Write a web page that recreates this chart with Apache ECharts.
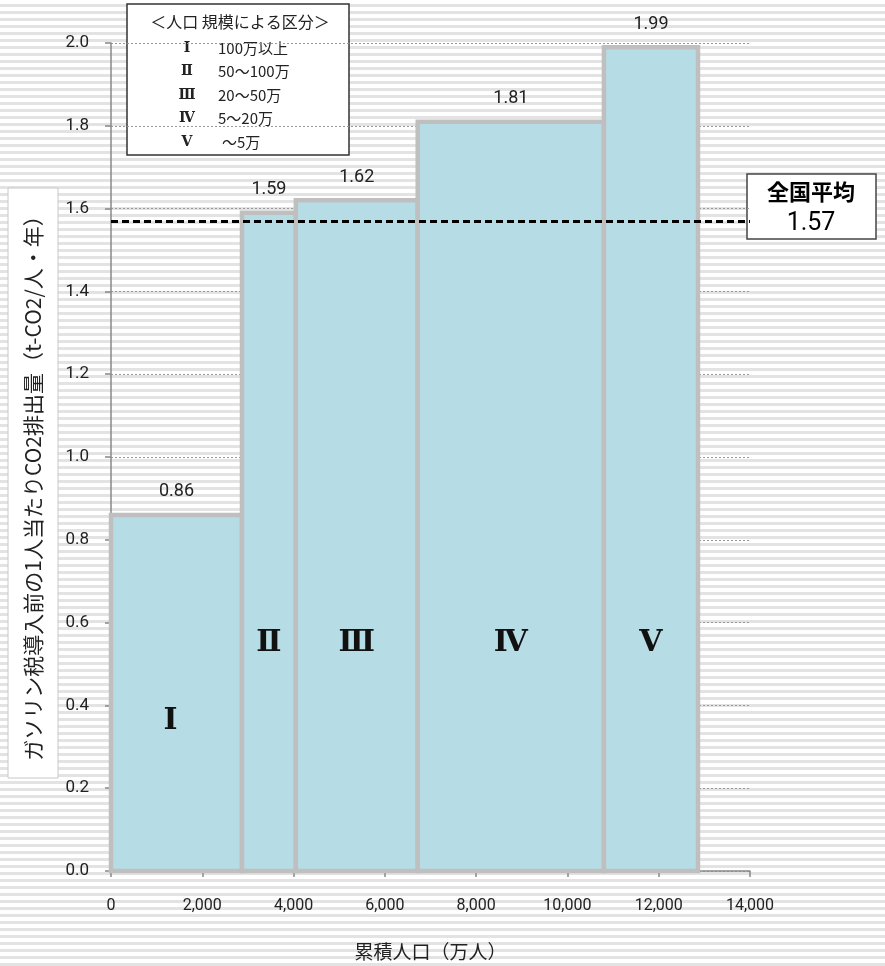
<!DOCTYPE html>
<html>
<head>
<meta charset="utf-8">
<script src="https://cdn.jsdelivr.net/npm/echarts@6/dist/echarts.min.js"></script>
<style>
  html, body {
    margin: 0;
    padding: 0;
    background: repeating-linear-gradient(to bottom, #ffffff 0px, #ffffff 4px, #e3e3e3 4px, #e3e3e3 7px);
  }
  #chart {
    width: 885px;
    height: 966px;
  }
</style>
</head>
<body>
<div id="chart"></div>
<script>
// cumulative population (万人) at the bar edges
const popEdges = [0, 2870, 4050, 6720, 10800, 12860]
// CO2 per person (t-CO2/人・年)
const co2PerCapita = [0.86, 1.59, 1.62, 1.81, 1.99]
const classNames = ['Ⅰ', 'Ⅱ', 'Ⅲ', 'Ⅳ', 'Ⅴ']
const classRanges = ['100万以上', '50～100万', '20～50万', '5～20万', '～5万']
const nationalAvg = 1.57
const xTicks = { min: 0, max: 14000, interval: 2000 }
const yTicks = { min: 0, max: 2.0, interval: 0.2 }

const jpFont = '"Noto Sans CJK JP", sans-serif'
const numFont = 'Roboto, "Noto Sans", sans-serif'
const romanFont = '"DejaVu Serif", "Noto Sans CJK JP", serif'

const barData = co2PerCapita.map((v, i) => [popEdges[i], popEdges[i + 1], v, i])

function renderBar(params, api) {
  const x0 = api.value(0)
  const x1 = api.value(1)
  const v = api.value(2)
  const idx = api.value(3)
  const topLeft = api.coord([x0, v])
  const bottomRight = api.coord([x1, 0])
  const cx = (topLeft[0] + bottomRight[0]) / 2
  const numeralY = api.coord([x0, Math.min(v * 0.42, 0.55)])[1]
  return {
    type: 'group',
    children: [
      {
        type: 'rect',
        shape: {
          x: topLeft[0],
          y: topLeft[1],
          width: bottomRight[0] - topLeft[0],
          height: bottomRight[1] - topLeft[1]
        },
        style: { fill: '#b6dce6', stroke: '#bfbfbf', lineWidth: 4.5 }
      },
      {
        type: 'text',
        style: {
          x: cx,
          y: topLeft[1] - 23,
          text: v.toFixed(2),
          fill: '#222',
          font: '18px ' + numFont,
          align: 'center',
          verticalAlign: 'middle'
        }
      },
      {
        type: 'text',
        style: {
          x: idx === 0 ? cx - 6 : cx,
          y: numeralY,
          text: classNames[idx],
          fill: '#111',
          font: 'bold 30px ' + romanFont,
          align: 'center',
          verticalAlign: 'middle'
        }
      }
    ]
  }
}

const legendChildren = [
  {
    type: 'rect',
    shape: { x: 127, y: 4, width: 222, height: 151 },
    style: { fill: '#fff', stroke: '#333', lineWidth: 1.5 }
  },
  {
    type: 'text',
    style: {
      x: 240, y: 22, text: '＜人口 規模による区分＞', fill: '#222',
      font: '16px ' + jpFont, align: 'center', verticalAlign: 'middle'
    }
  }
]
classNames.forEach((name, i) => {
  const y = 48 + i * 23.5
  legendChildren.push({
    type: 'text',
    style: {
      x: 187, y, text: name, fill: '#222',
      font: 'bold 14px ' + romanFont, align: 'center', verticalAlign: 'middle'
    }
  })
  legendChildren.push({
    type: 'text',
    style: {
      x: i === 4 ? 222 : 218, y, text: classRanges[i], fill: '#222',
      font: '15px ' + jpFont, align: 'left', verticalAlign: 'middle'
    }
  })
})

const chart = echarts.init(document.getElementById('chart'))

chart.setOption({
  backgroundColor: 'transparent',
  animation: false,
  grid: { left: 111, right: 135, top: 43, bottom: 94 },
  xAxis: {
    type: 'value',
    min: xTicks.min,
    max: xTicks.max,
    interval: xTicks.interval,
    name: '累積人口（万人）',
    nameLocation: 'middle',
    nameGap: 71,
    nameTextStyle: { fontFamily: jpFont, fontSize: 19, color: '#222' },
    axisLine: { show: true, lineStyle: { color: '#888', width: 1.5 } },
    axisTick: { show: true, length: 6, lineStyle: { color: '#888', width: 1.5 } },
    axisLabel: {
      margin: 27,
      fontFamily: numFont,
      fontSize: 16,
      color: '#222',
      formatter: (v) => v.toLocaleString('en-US')
    },
    splitLine: { show: false }
  },
  yAxis: {
    type: 'value',
    min: yTicks.min,
    max: yTicks.max,
    interval: yTicks.interval,
    axisLine: { show: true, lineStyle: { color: '#888', width: 1.5 } },
    axisTick: { show: true, length: 6, lineStyle: { color: '#888', width: 1.5 } },
    axisLabel: {
      margin: 22,
      fontFamily: numFont,
      fontSize: 17,
      color: '#222',
      formatter: (v) => v.toFixed(1)
    },
    splitLine: { show: true, lineStyle: { color: '#999', type: [2, 2], width: 1 } }
  },
  series: [
    {
      type: 'custom',
      renderItem: renderBar,
      encode: { x: [0, 1], y: 2 },
      data: barData,
      z: 2,
      markLine: {
        silent: true,
        symbol: 'none',
        label: { show: false },
        lineStyle: { color: '#000', width: 3, type: [7, 4] },
        data: [{ yAxis: nationalAvg }]
      }
    }
  ],
  graphic: [
    {
      type: 'group',
      children: [
        {
          type: 'rect',
          shape: { x: 8, y: 188, width: 50, height: 590 },
          style: { fill: '#fff', stroke: '#c8c8c8', lineWidth: 1 }
        },
        {
          type: 'text',
          x: 33,
          y: 483,
          rotation: Math.PI / 2,
          style: {
            text: 'ガソリン税導入前の1人当たりCO2排出量（t-CO2/人・年）',
            fill: '#222',
            font: '21px ' + jpFont,
            align: 'center',
            verticalAlign: 'middle'
          }
        }
      ]
    },
    { type: 'group', children: legendChildren },
    {
      type: 'group',
      z: 100,
      children: [
        {
          type: 'rect',
          shape: { x: 747, y: 174, width: 129, height: 65 },
          style: { fill: '#fff', stroke: '#444', lineWidth: 1.5 }
        },
        {
          type: 'text',
          style: {
            x: 811, y: 192, text: '全国平均', fill: '#000',
            font: 'bold 22px ' + jpFont, align: 'center', verticalAlign: 'middle'
          }
        },
        {
          type: 'text',
          style: {
            x: 811, y: 224, text: nationalAvg.toFixed(2), fill: '#000',
            font: '25px ' + numFont, align: 'center', verticalAlign: 'middle'
          }
        }
      ]
    }
  ]
})

window.addEventListener('resize', () => chart.resize())
</script>
</body>
</html>
